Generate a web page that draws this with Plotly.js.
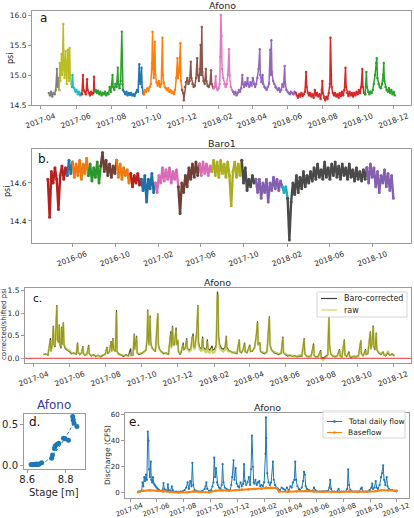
<!DOCTYPE html>
<html>
<head>
<meta charset="utf-8">
<script src="https://cdn.plot.ly/plotly-3.0.1.min.js"></script>
<style>
  html, body { margin: 0; padding: 0; background: #fff; }
  #chart { width: 414px; height: 518px; }
</style>
</head>
<body>
<div id="chart"></div>
<script>
// ---------------------------------------------------------------------------
// Afono water-level logger, psi.  [days since AFONO_EPOCH, psi]
// ---------------------------------------------------------------------------
const AFONO_EPOCH = '2017-04-01';
const afonoPsi = [
  [14,14.70],[16,14.66],[18,14.72],[20,14.64],[22,14.70],[24,14.68],[26,14.75],[28,15.10],[29,14.80],[31,14.95],[32,14.75],
  [33,15.20],[34,14.90],[36,15.35],[37,15.00],[39,15.85],[40,15.10],[41,14.95],[43,15.40],[44,15.00],[45,14.85],[47,15.42],[48,14.95],[49,14.90],[50,15.45],[51,15.00],[53,14.85],[54,14.80],
  [55,15.00],[56,14.80],[58,14.78],[60,14.72],[62,14.75],[64,14.68],[66,14.72],[68,14.66],[70,14.70],[71,14.68],
  [73,15.00],[74,14.75],[76,14.72],[78,14.68],[80,14.93],[81,14.75],[83,14.70],[85,14.66],[87,14.72],[89,14.68],[91,14.70],[92,14.97],[93,14.72],
  [95,14.75],[97,14.70],[99,14.74],[101,14.68],[103,14.72],[105,14.66],[107,14.70],[109,14.68],[111,14.72],[113,14.66],[115,14.70],[117,14.68],[119,14.80],[121,14.72],[123,14.85],[124,15.00],[125,14.80],[127,14.75],[129,14.85],[131,14.80],[133,15.12],[134,14.85],[136,14.78],[138,14.90],[140,15.72],[141,14.85],[142,14.75],
  [144,14.72],[146,14.68],[148,14.72],[150,14.66],[152,14.70],[154,14.67],[156,14.70],[158,14.66],[160,14.68],[162,14.65],[164,14.70],[166,14.75],[168,14.72],[170,15.18],[171,14.90],[172,14.85],[174,15.12],[175,14.80],[177,14.70],[178,14.68],
  [180,14.75],[182,14.72],[184,14.78],[186,14.74],[188,14.80],[190,14.85],[192,15.20],[193,15.72],[194,15.10],[195,14.95],[197,15.55],[198,15.00],[200,14.88],[202,14.82],[204,14.90],[206,14.80],[208,14.85],[210,15.62],[211,15.00],[212,14.88],[214,14.80],[216,14.78],[218,14.75],[220,14.78],[222,14.72],[224,14.75],[226,14.70],[228,14.72],[230,14.68],[232,14.75],[234,14.95],[236,15.28],[237,14.95],[239,15.05],[241,15.53],[242,14.90],[244,14.75],
  [246,14.70],[247,14.58],[249,14.80],[251,14.88],[253,14.95],[255,14.85],[257,14.90],[259,15.22],[260,14.95],[262,14.85],[264,14.80],[266,14.82],[268,14.95],[270,15.28],[271,15.00],[273,14.90],[275,15.10],[276,15.50],[277,15.00],[278,15.80],[279,15.05],[281,14.90],[283,14.85],[285,15.10],[286,14.90],[288,14.82],[290,14.80],[292,14.85],[294,15.08],[295,14.85],[297,14.80],[298,14.78],
  [300,14.80],[302,14.98],[303,14.80],[305,14.75],[307,14.78],[309,14.85],[310,15.30],[311,16.00],[312,15.65],[313,15.10],[315,14.95],[317,14.85],[319,14.80],[321,14.85],[323,15.00],[325,15.43],[326,15.00],[328,14.80],[330,14.75],[332,14.72],
  [334,14.68],[336,14.72],[338,14.66],[340,14.70],[342,14.75],[344,14.72],[346,14.78],[348,15.00],[349,14.85],[351,14.80],[353,14.88],[355,14.82],[357,14.95],[358,14.85],[360,14.80],[362,14.88],[364,14.82],[366,14.95],[368,14.85],[370,14.80],[372,14.85],[374,14.95],[376,15.10],[378,15.43],[379,15.00],[381,14.88],[383,15.00],[384,14.85],[386,14.80],[388,14.78],[390,14.75],[392,14.80],[394,14.85],[396,15.42],[397,15.00],[398,15.58],[399,15.05],[401,14.90],[403,14.85],[405,14.80],[407,14.78],[409,14.75],[411,14.78],[413,14.72],[415,14.75],[417,14.85],[419,14.80],[421,15.15],[422,14.85],[424,14.75],[426,14.72],[428,14.70],[430,14.68],[432,14.72],[434,14.70],[436,14.68],[438,14.72],[440,14.70],
  [442,14.66],[444,14.62],[446,14.68],[448,14.64],[450,14.70],[452,14.65],[454,14.68],[456,14.72],[458,15.05],[459,14.80],[461,14.70],[463,14.66],[465,14.70],[467,14.64],[469,14.68],[471,14.62],[473,14.75],[475,14.66],[477,14.70],[479,14.64],[481,14.68],[483,14.60],[485,14.75],[486,14.90],[487,14.70],[489,14.62],[491,14.58],[493,14.64],[495,14.60],[497,14.70],[499,14.85],[500,15.62],[501,15.00],[502,14.80],[504,14.70],[506,14.66],[508,14.70],[510,14.64],[512,14.68],[514,14.62],[516,14.70],[518,14.65],[520,14.72],[522,14.66],[524,14.75],[526,15.12],[527,14.80],[529,14.70],[531,14.65],[533,14.72],[535,14.66],[537,14.70],[539,14.64],[541,14.70],[543,14.66],[545,14.72],[547,14.68],[549,14.75],[551,14.70],[553,14.80],[555,15.10],[556,14.80],[558,14.70],[560,14.68],
  [562,15.05],[563,14.80],[565,14.72],[567,14.68],[569,14.72],[571,14.70],[573,14.75],[575,14.85],[577,15.00],[579,15.20],[580,15.28],[581,14.95],[583,14.85],[585,14.80],[587,14.78],[589,14.85],[591,15.00],[592,15.20],[593,14.90],[595,14.80],[597,14.75],[599,14.72],[601,14.78],[603,14.70],[605,14.75],[607,14.68],[609,14.72],[611,14.66]
];
// first day of each logger download (one colour per file)
const afonoDeployStart = [14, 32, 54, 71, 93, 142, 178, 244, 298, 332, 440, 560];
const afonoDeployColors = ['#7f7f7f','#bcbd22','#17becf','#d62728','#2ca02c','#1f77b4',
                           '#ff7f0e','#8c564b','#e377c2','#9467bd','#d62728','#2ca02c'];

// ---------------------------------------------------------------------------
// Baro1 barometric logger, psi, every BARO_STEP days from BARO_START
// ---------------------------------------------------------------------------
const BARO_START = '2016-03-24';
const BARO_STEP = 5;
const baroPsi = [
  14.62,14.42,14.66,14.60,14.68,14.62,14.46,14.64,14.69,14.62,14.68,14.64,
  14.72,14.65,14.71,
  14.63,14.70,14.64,14.72,14.62,14.70,14.65,14.73,14.64,
  14.70,14.61,14.68,14.63,14.71,14.60,14.69,
  14.76,14.66,14.72,14.64,14.70,14.63,14.69,14.65,14.72,
  14.63,14.70,14.62,14.68,14.64,14.67,14.60,14.65,
  14.58,14.64,14.60,14.65,14.59,14.62,
  14.56,14.64,14.50,14.62,14.57,14.65,14.55,14.60,
  14.55,14.64,14.60,14.68,14.61,14.67,14.62,14.68,14.60,14.66,14.62,14.67,14.58,
  14.44,14.60,14.55,14.64,14.58,14.68,14.62,14.70,14.63,14.71,14.64,14.70,
  14.64,14.71,14.65,14.70,14.64,14.69,14.66,
  14.72,14.64,14.71,14.63,14.72,14.65,14.70,14.63,14.71,14.64,14.48,14.66,14.71,14.63,14.70,14.64,14.72,
  14.60,14.68,14.56,14.62,14.58,14.64,14.60,14.62,
  14.55,14.62,14.52,14.60,14.55,14.62,14.50,14.60,14.56,14.63,14.57,14.62,14.56,14.61,14.58,
  14.55,14.58,14.52,
  14.30,14.50,14.60,14.54,14.64,14.55,14.63,14.57,14.66,14.58,14.64,14.60,14.66,14.61,14.68,14.62,14.70,14.63,14.67,14.62,14.71,14.63,14.68,14.62,14.70,14.64,14.71,14.63,14.69,14.62,14.70,14.64,14.68,14.62,14.70,14.63,14.67,14.61,14.68,14.62,14.66,14.61,14.67,14.62,14.68,
  14.60,14.70,14.63,14.68,14.58,14.66,14.55,14.64,14.60,14.67,14.58,14.65,14.56,14.64,14.52
];
// sample index where each download starts
const baroDeployStart = [0, 11, 14, 23, 30, 39, 47, 53, 61, 74, 86, 93, 110, 118, 133, 136, 181];
const baroDeployColors = ['#b82020','#1f77b4','#f07a10','#2a962a','#6e4038','#f07a10','#b82020','#1f6fa8',
                          '#d86cb6','#6e4038','#d86cb6','#acad20','#4a4a4a','#8560b0','#17b0c0','#4a4a4a','#8560b0'];

// ---------------------------------------------------------------------------
// Afono, baro-corrected vs raw (shifted) psi: [day, corrected, raw]
// ---------------------------------------------------------------------------
const afonoShifted = [
  [16,0.08,0.10],[20,0.10,0.08],[24,0.07,0.09],[28,0.45,0.40],[29,0.15,0.15],[31,0.30,0.28],[33,0.72,0.70],[34,0.30,0.30],[36,0.25,0.28],
  [39,1.18,1.15],[40,0.40,0.42],[42,0.35,0.35],[43,0.75,0.72],[44,0.30,0.32],[46,0.22,0.25],[47,0.70,0.68],[48,0.30,0.30],[50,0.80,0.78],
  [51,0.30,0.32],[53,0.22,0.25],[56,0.18,0.20],[60,0.15,0.17],[64,0.10,0.12],[68,0.12,0.10],[72,0.08,0.10],[74,0.35,0.33],[75,0.12,0.14],
  [78,0.08,0.10],[81,0.12,0.12],[83,0.27,0.25],[84,0.10,0.12],[87,0.06,0.08],[90,0.10,0.08],[93,0.30,0.28],[94,0.10,0.10],[97,0.05,0.07],
  [101,0.08,0.06],[105,0.04,0.06],[109,0.07,0.05],[113,0.03,0.05],[117,0.06,0.08],[121,0.10,0.08],[124,0.25,0.22],[125,0.10,0.12],
  [128,0.15,0.13],[131,0.38,0.35],[132,0.15,0.15],[134,0.45,0.42],[135,0.20,0.20],[138,0.15,0.17],[140,1.07,1.02],[141,0.15,0.15],
  [144,0.10,0.08],[148,0.06,0.08],[152,0.04,0.06],[156,0.08,0.06],[160,0.05,0.07],[164,0.22,0.06],[165,0.06,0.06],[168,0.06,0.08],
  [170,0.55,0.52],[171,0.20,0.18],[174,0.50,0.48],[175,0.12,0.12],[178,0.08,0.10],[182,0.10,0.12],[186,0.14,0.12],[190,0.18,0.20],
  [192,0.45,0.45],[193,1.08,1.05],[194,0.45,0.45],[195,0.30,0.28],[197,0.95,0.90],[198,0.35,0.35],[200,0.25,0.22],[203,0.18,0.20],
  [206,0.15,0.17],[210,1.00,0.98],[211,0.30,0.28],[213,0.20,0.20],[216,0.15,0.14],[220,0.10,0.12],[224,0.12,0.10],[228,0.08,0.10],
  [232,0.60,0.55],[233,0.25,0.22],[235,0.72,0.70],[236,0.30,0.28],[238,0.30,0.30],[241,0.68,0.62],[242,0.30,0.28],[244,0.40,0.42],
  [245,0.15,0.15],[248,0.08,0.10],[250,0.15,0.18],[253,0.35,0.30],[254,0.18,0.20],[257,0.25,0.22],[259,0.45,0.42],[260,0.22,0.22],
  [263,0.18,0.15],[266,0.22,0.18],[268,0.45,0.40],[270,0.55,0.50],[271,0.25,0.22],[273,0.25,0.20],[276,0.60,0.55],[278,1.18,1.15],
  [279,0.35,0.30],[281,0.25,0.20],[284,0.20,0.15],[286,0.48,0.45],[287,0.25,0.20],[290,0.20,0.15],[292,0.20,0.12],[294,0.42,0.38],
  [295,0.22,0.15],[298,0.18,0.12],[302,0.28,0.22],[303,0.18,0.12],[306,0.20,0.13],[309,0.30,0.25],[311,1.48,1.42],[312,1.40,1.30],
  [313,0.50,0.45],[315,0.30,0.22],[318,0.22,0.18],[321,0.20,0.15],[324,0.25,0.20],[326,0.50,0.48],[327,0.25,0.20],[330,0.18,0.15],
  [333,0.15,0.16],[336,0.14,0.12],[340,0.12,0.14],[344,0.10,0.12],[348,0.42,0.40],[349,0.15,0.15],[352,0.12,0.14],[355,0.22,0.20],
  [357,0.35,0.33],[358,0.15,0.15],[361,0.12,0.14],[364,0.22,0.20],[366,0.30,0.28],[367,0.15,0.15],[370,0.15,0.17],[374,0.25,0.22],
  [377,0.52,0.50],[379,0.82,0.80],[380,0.30,0.30],[383,0.35,0.32],[384,0.15,0.16],[387,0.12,0.14],[391,0.10,0.12],[395,0.15,0.13],
  [397,0.55,0.52],[399,0.93,0.90],[400,0.30,0.30],[403,0.18,0.18],[407,0.12,0.14],[411,0.10,0.12],[415,0.08,0.10],[419,0.12,0.10],
  [422,0.48,0.45],[423,0.12,0.12],[426,0.08,0.10],[430,0.05,0.07],[434,0.07,0.05],[438,0.04,0.06],[442,0.06,0.04],[446,0.03,0.05],
  [450,0.05,0.07],[454,0.04,0.06],[458,0.45,0.43],[459,0.10,0.10],[462,0.05,0.04],[466,0.03,0.05],[470,0.06,0.04],[474,0.33,0.30],
  [475,0.06,0.06],[478,0.03,0.02],[482,0.05,0.03],[486,0.18,0.16],[487,0.03,0.00],[490,0.00,-0.04],[494,0.04,0.02],[498,0.08,0.06],
  [500,0.93,0.90],[501,0.30,0.28],[503,0.10,0.10],[506,0.05,0.06],[510,0.03,0.05],[514,0.06,0.04],[518,0.20,0.18],[519,0.05,0.05],
  [522,0.03,0.04],[526,0.42,0.40],[527,0.08,0.08],[530,0.04,0.05],[534,0.15,0.12],[535,0.03,0.04],[538,0.02,0.04],[542,0.05,0.03],
  [546,0.03,0.05],[550,0.06,0.04],[554,0.40,0.38],[555,0.10,0.10],[558,0.05,0.06],[562,0.20,0.18],[563,0.08,0.08],[566,0.10,0.12],
  [570,0.60,0.58],[571,0.20,0.20],[573,0.35,0.32],[575,0.73,0.70],[576,0.25,0.25],[578,0.18,0.20],[580,0.57,0.55],[581,0.20,0.20],
  [584,0.12,0.14],[588,0.08,0.10],[592,0.15,0.12],[593,0.08,0.08],[596,0.05,0.07],[600,0.12,0.15],[603,0.06,0.08],[607,0.10,0.08],
  [611,0.05,0.06]
];

// ---------------------------------------------------------------------------
// Afono rating curve: stage (m) vs discharge
// ---------------------------------------------------------------------------
const ratingStage = [8.620,8.628,8.635,8.642,8.648,8.655,8.662,8.675,8.727,8.731,8.741,8.745,8.753,8.763,8.788,8.797,8.814,8.836,8.838,8.843,8.858];
const ratingQ     = [0.015,0.012,0.018,0.015,0.020,0.015,0.020,0.037,0.090,0.130,0.210,0.240,0.260,0.275,0.337,0.330,0.310,0.600,0.560,0.520,0.480];
const ratingFitStage = [8.620,8.640,8.660,8.680,8.700,8.720,8.740,8.760,8.780,8.800,8.820,8.840,8.855];
const ratingFitQ     = [0.000,0.005,0.015,0.035,0.060,0.100,0.150,0.210,0.280,0.350,0.430,0.520,0.590];

// ---------------------------------------------------------------------------
// Afono discharge (CFS): [day since AFONO_EPOCH, cfs]
// ---------------------------------------------------------------------------
const totalDailyFlow = [
  [18,1],[22,1],[26,1.5],[28,8],[30,5],[32,12],[34,9],[36,14],[38,10],[40,47],[42,40],[43,18],[45,12],[47,24],[48,10],[50,8],[52,12],
  [54,7],[56,6],[58,5],[60,4],[63,3],[66,2],[70,1.5],[74,2],[76,7.5],[78,3],[81,2],[84,1.5],[86,6.5],[88,2],[92,1.5],[95,5],[97,2],
  [100,1],[105,1],[110,0.8],[115,1],[120,1.2],[124,2],[128,4],[131,8],[134,3],[137,9],[140,5],[142,23],[144,6],[147,2],[150,1.5],
  [155,1],[160,1],[165,1.5],[170,3],[172,5],[174,8],[176,3],[180,1.5],[185,2],[188,5],[190,8],[192,27],[194,12],[196,19],[198,8],
  [200,6],[203,4],[206,3],[209,6],[211,22],[213,8],[216,4],[220,3],[224,2],[228,2],[231,6],[233,12],[236,25],[238,10],[241,19],
  [243,7],[246,5],[249,4],[252,8],[255,5],[258,7],[260,22],[262,9],[265,6],[268,8],[271,12],[274,6],[276,18],[278,44],[280,20],
  [282,8],[284,7],[286,10],[289,6],[292,8],[295,9],[297,5],[300,6],[303,5],[306,8],[309,30],[310,58],[311,42],[313,15],[316,8],
  [319,6],[322,8],[326,24],[328,10],[331,6],[334,4],[338,3],[342,2],[346,4],[350,3],[354,2],[358,4],[362,2],[366,5],[369,4],
  [372,8],[375,10],[377,24],[379,10],[382,5],[385,3],[388,2],[392,4],[395,9],[397,16],[399,14],[401,5],[404,3],[408,2],[412,1.5],
  [416,1.5],[420,4],[423,2],[427,1],[432,1],[437,1],[442,1],[447,1],[452,1.5],[455,4],[457,10],[459,3],[462,1],[467,1],[472,1],
  [476,3],[478,1],[482,1],[487,1],[492,1],[496,3],[498,18],[500,6],[503,2],[508,1],[513,1],[518,1],[523,1],[527,3],[529,4],
  [532,1],[537,1],[542,1],[547,2],[551,4],[553,7],[555,3],[558,4],[561,9],[563,4],[566,3],[570,6],[573,12],[576,15],[578,21],
  [580,10],[583,6],[586,12],[588,5],[591,3],[595,2],[599,2],[603,1.5],[608,1]
];
const baseflow = [
  [18,0.5],[30,1.5],[45,2.0],[60,1.5],[75,1.0],[90,0.6],[110,0.3],[130,0.4],[145,1.0],[160,0.6],[180,0.5],[195,1.5],[210,2.0],
  [225,1.6],[240,2.0],[255,2.5],[270,2.8],[285,3.0],[300,3.2],[310,4.0],[320,3.8],[335,3.5],[340,1.0],[360,0.8],[380,1.2],
  [400,1.4],[420,1.0],[440,0.8],[460,0.7],[480,0.6],[500,0.9],[520,0.7],[540,0.8],[560,1.2],[575,2.0],[590,2.0],[609,1.5]
];

// tick labels
const afonoTickLabels = ['2017-04','2017-06','2017-08','2017-10','2017-12','2018-02','2018-04','2018-06','2018-08','2018-10','2018-12'];
const baroTickLabels  = ['2016-06','2016-10','2017-02','2017-06','2017-10','2018-02','2018-06','2018-10'];

// ---------------------------------------------------------------------------
function dayToDate(epoch, d) {
  const t = new Date(epoch + 'T00:00:00Z');
  t.setUTCDate(t.getUTCDate() + d);
  return t.toISOString().slice(0, 10);
}
const W = 414, H = 518;
const fx = x => x / W;
const fy = y => 1 - y / H;
const FONT = 'DejaVu Sans, sans-serif';
const INK = '#262626';

const traces = [];

// (a) Afono psi, coloured by download
afonoDeployStart.forEach((lo, k) => {
  const hi = k + 1 < afonoDeployStart.length ? afonoDeployStart[k + 1] : Infinity;
  const pts = afonoPsi.filter(p => p[0] >= lo && p[0] <= hi);
  traces.push({
    x: pts.map(p => dayToDate(AFONO_EPOCH, p[0])), y: pts.map(p => p[1]),
    xaxis: 'x', yaxis: 'y', mode: 'lines+markers', showlegend: false,
    line: { color: afonoDeployColors[k], width: 1.5 },
    marker: { color: afonoDeployColors[k], size: 2.4 }
  });
});

// (b) Baro1 psi, coloured by download
baroDeployStart.forEach((lo, k) => {
  const hi = k + 1 < baroDeployStart.length ? baroDeployStart[k + 1] : baroPsi.length - 1;
  const xs = [], ys = [];
  for (let i = lo; i <= hi; i++) { xs.push(dayToDate(BARO_START, i * BARO_STEP)); ys.push(baroPsi[i]); }
  traces.push({
    x: xs, y: ys, xaxis: 'x2', yaxis: 'y2', mode: 'lines+markers', showlegend: false,
    line: { color: baroDeployColors[k], width: 2.4 },
    marker: { color: baroDeployColors[k], size: 3 }
  });
});

// (c) corrected vs raw
const cDates = afonoShifted.map(p => dayToDate(AFONO_EPOCH, p[0]));
traces.push({ x: cDates, y: afonoShifted.map(p => p[1]), xaxis: 'x3', yaxis: 'y3', mode: 'lines',
  showlegend: false, line: { color: '#3f3f3f', width: 1.1 } });
traces.push({ x: cDates, y: afonoShifted.map(p => p[2]), xaxis: 'x3', yaxis: 'y3', mode: 'lines',
  showlegend: false, line: { color: 'rgba(188,189,34,0.7)', width: 2 } });

// (d) rating curve
traces.push({ x: ratingFitStage, y: ratingFitQ, xaxis: 'x4', yaxis: 'y4', mode: 'lines', showlegend: false,
  line: { color: '#1f77b4', width: 1, dash: '3px,2px' } });
traces.push({ x: ratingStage, y: ratingQ, xaxis: 'x4', yaxis: 'y4', mode: 'markers', showlegend: false,
  marker: { color: '#1f77b4', size: 5 } });

// (e) discharge
traces.push({ x: totalDailyFlow.map(p => dayToDate(AFONO_EPOCH, p[0])), y: totalDailyFlow.map(p => p[1]),
  xaxis: 'x5', yaxis: 'y5', mode: 'lines+markers', showlegend: false,
  line: { color: '#1f77b4', width: 1 }, marker: { color: '#1f77b4', size: 2.2 } });
traces.push({ x: baseflow.map(p => dayToDate(AFONO_EPOCH, p[0])), y: baseflow.map(p => p[1]),
  xaxis: 'x5', yaxis: 'y5', mode: 'lines+markers', showlegend: false,
  line: { color: '#ff7f0e', width: 2 }, marker: { color: '#ff7f0e', size: 2.5 } });

// ---------------------------------------------------------------------------
const axBase = {
  showline: true, mirror: true, linecolor: '#9a9a9a', linewidth: 1,
  ticks: 'outside', ticklen: 3, tickwidth: 1, tickcolor: '#9a9a9a',
  showgrid: false, zeroline: false, fixedrange: true,
  tickfont: { family: FONT, size: 7.5, color: INK }
};
const dateTicks = (labels) => ({
  type: 'date', tickvals: labels.map(s => s + '-01'), ticktext: labels,
  tickangle: -20, ticklabelshift: 14
});

const layout = {
  width: W, height: H, margin: { l: 0, r: 0, t: 0, b: 0 },
  paper_bgcolor: '#fff', plot_bgcolor: '#fff', showlegend: false,
  font: { family: FONT, color: INK },
  xaxis: Object.assign({}, axBase, dateTicks(afonoTickLabels), {
    domain: [fx(32), fx(411)], anchor: 'y', range: ['2017-03-17', '2018-12-31'] }),
  yaxis: Object.assign({}, axBase, { domain: [fy(105), fy(11)], anchor: 'x', range: [14.5, 16.067],
    tickvals: [14.5, 15.0, 15.5, 16.0], ticktext: ['14.5', '15.0', '15.5', '16.0'] }),
  xaxis2: Object.assign({}, axBase, dateTicks(baroTickLabels), {
    domain: [fx(32), fx(411)], anchor: 'y2', range: ['2016-02-08', '2019-01-18'] }),
  yaxis2: Object.assign({}, axBase, { domain: [fy(243), fy(149)], anchor: 'x2', range: [14.284, 14.779],
    tickvals: [14.4, 14.6], ticktext: ['14.4', '14.6'] }),
  xaxis3: Object.assign({}, axBase, dateTicks(afonoTickLabels), {
    domain: [fx(25), fx(411)], anchor: 'y3', range: ['2017-03-17', '2018-12-31'] }),
  yaxis3: Object.assign({}, axBase, { domain: [fy(363), fy(288)], anchor: 'x3', range: [-0.105, 1.56],
    tickvals: [0, 0.5, 1.0, 1.5], ticktext: ['0.0', '0.5', '1.0', '1.5'] }),
  xaxis4: Object.assign({}, axBase, { domain: [fx(24), fx(85)], anchor: 'y4', range: [8.583, 8.9],
    tickvals: [8.6, 8.8], ticktext: ['8.6', '8.8'], ticklabelstandoff: -2,
    tickfont: { family: FONT, size: 10, color: INK } }),
  yaxis4: Object.assign({}, axBase, { domain: [fy(469), fy(414)], anchor: 'x4', range: [-0.04, 0.632],
    tickvals: [0, 0.5], ticktext: ['0.0', '0.5'], tickfont: { family: FONT, size: 10, color: INK } }),
  xaxis5: Object.assign({}, axBase, dateTicks(afonoTickLabels), {
    domain: [fx(125), fx(409)], anchor: 'y5', range: ['2017-03-20', '2018-12-29'],
    ticklabelstandoff: -3, ticklabelshift: 12, tickfont: { family: FONT, size: 6.8, color: INK } }),
  yaxis5: Object.assign({}, axBase, { domain: [fy(498), fy(413)], anchor: 'x5', range: [-4.0, 61.3],
    tickvals: [0, 20, 40, 60], ticktext: ['0', '20', '40', '60'], tickfont: { family: FONT, size: 7, color: INK } }),
  shapes: [],
  annotations: []
};

const txt = (text, x, y, opt) => Object.assign({
  text, x: fx(x), y: fy(y), xref: 'paper', yref: 'paper', showarrow: false,
  xanchor: 'center', yanchor: 'middle', font: { family: FONT, size: 9.5, color: INK }
}, opt || {});

layout.annotations.push(
  txt('Afono', 222, 6),
  txt('a', 38, 18, { xanchor: 'left', font: { family: FONT, size: 12, color: '#111' } }),
  txt('psi', 10, 59, { textangle: -90, font: { family: FONT, size: 8, color: INK } }),
  txt('Baro1', 222, 143),
  txt('b.', 36, 159, { xanchor: 'left', font: { family: FONT, size: 12, color: '#111' } }),
  txt('psi', 8, 192, { textangle: -90, font: { family: FONT, size: 8, color: INK } }),
  txt('Afono', 217, 282),
  txt('c.', 31, 298, { xanchor: 'left', font: { family: FONT, size: 10.5, color: '#111' } }),
  txt('corrected/shifted psi', 4, 324, { textangle: -90, font: { family: FONT, size: 7, color: INK } }),
  txt('Afono', 54, 405, { font: { family: FONT, size: 12, color: '#3d3d9e' } }),
  txt('d.', 27, 422, { xanchor: 'left', font: { family: FONT, size: 12, color: '#111' } }),
  txt('Stage [m]', 54, 492, { font: { family: FONT, size: 10, color: INK } }),
  txt('Afono', 267, 407),
  txt('e.', 127, 422, { xanchor: 'left', font: { family: FONT, size: 12, color: '#111' } }),
  txt('Discharge (CFS)', 107, 455, { textangle: -90, font: { family: FONT, size: 7.5, color: INK } })
);

// (c) zero reference line
layout.shapes.push({ type: 'line', xref: 'x3 domain', yref: 'y3', x0: 0, x1: 1, y0: 0, y1: 0,
  line: { color: '#e8322f', width: 1 }, layer: 'above' });

// legend boxes
function legendBox(x0, y0, x1, y1) {
  layout.shapes.push({ type: 'rect', xref: 'paper', yref: 'paper', x0: fx(x0), x1: fx(x1), y0: fy(y1), y1: fy(y0),
    line: { color: '#d5d5d5', width: 1 }, fillcolor: 'rgba(255,255,255,0.85)', layer: 'above' });
}
function legendLine(x0, x1, y, color, width, dot) {
  layout.shapes.push({ type: 'line', xref: 'paper', yref: 'paper', x0: fx(x0), x1: fx(x1), y0: fy(y), y1: fy(y),
    line: { color, width }, layer: 'above' });
  if (dot) {
    const cx = (x0 + x1) / 2;
    layout.shapes.push({ type: 'circle', xref: 'paper', yref: 'paper', x0: fx(cx - 1.3), x1: fx(cx + 1.3),
      y0: fy(y + 1.3), y1: fy(y - 1.3), fillcolor: color, line: { color, width: 0 }, layer: 'above' });
  }
}
legendBox(317, 292, 407, 317);
legendLine(321, 337, 298.5, '#3f3f3f', 1.2);
legendLine(321, 337, 310, '#dede80', 1.5);
layout.annotations.push(
  txt('Baro-corrected', 342, 298.5, { xanchor: 'left', font: { family: FONT, size: 8, color: INK } }),
  txt('raw', 342, 310, { xanchor: 'left', font: { family: FONT, size: 8, color: INK } })
);
legendBox(323, 411, 405, 438);
legendLine(327, 342, 421.5, '#1f77b4', 1, true);
legendLine(327, 342, 432.5, '#ff7f0e', 1, true);
layout.annotations.push(
  txt('Total daily flow', 346, 421.5, { xanchor: 'left', font: { family: FONT, size: 7.5, color: INK } }),
  txt('Baseflow', 346, 432.5, { xanchor: 'left', font: { family: FONT, size: 7.5, color: INK } })
);

Plotly.newPlot('chart', traces, layout, { staticPlot: true, displayModeBar: false });
</script>
</body>
</html>
